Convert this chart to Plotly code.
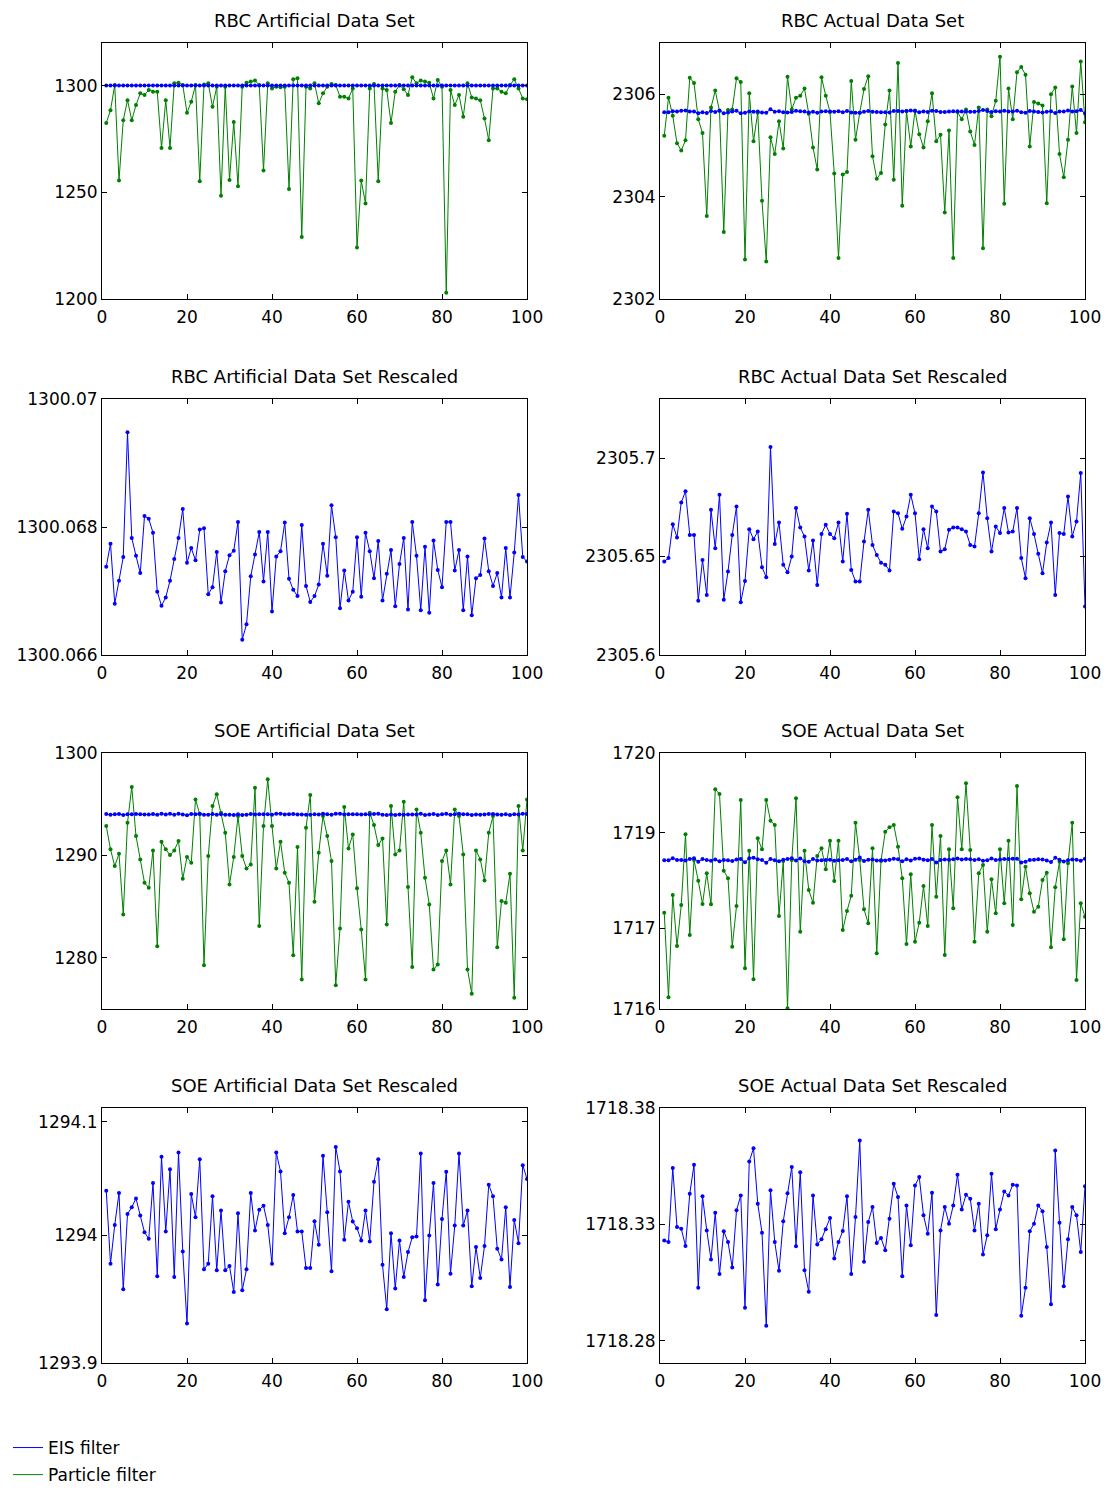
import plotly.graph_objects as go

W, H = 1111, 1495
OFF = 8  # page margin around the figure
FW, FH = W - 2 * OFF, H - 2 * OFF

x_steps = list(range(1, 101))

# particle filter estimates (green)
rbc_art_pf = [
    1282.5, 1288.5, 1300.3, 1255.5, 1283.8, 1293.2, 1283.8, 1290.9, 1296.4, 1295.6,
    1298.0, 1297.2, 1297.2, 1270.8, 1293.2, 1270.8, 1301.1, 1301.4, 1300.3, 1287.3,
    1292.5, 1300.3, 1255.2, 1300.6, 1301.1, 1290.1, 1299.5, 1248.4, 1299.5, 1255.8,
    1283.0, 1252.8, 1299.5, 1301.4, 1301.9, 1302.4, 1300.3, 1260.2, 1301.1, 1298.7,
    1299.5, 1299.2, 1299.5, 1251.6, 1303.0, 1303.5, 1229.1, 1299.5, 1298.7, 1301.1,
    1291.7, 1296.4, 1299.5, 1300.8, 1300.3, 1294.8, 1294.8, 1294.0, 1298.7, 1224.1,
    1255.5, 1244.8, 1298.7, 1300.8, 1255.2, 1298.7, 1298.0, 1282.5, 1297.2, 1300.3,
    1298.3, 1295.6, 1303.9, 1301.1, 1302.4, 1301.9, 1301.4, 1294.0, 1302.7, 1299.5,
    1202.9, 1298.0, 1290.9, 1295.6, 1285.4, 1301.1, 1294.5, 1294.0, 1293.2, 1284.6,
    1274.4, 1298.7, 1298.7, 1297.2, 1296.4, 1300.3, 1303.0, 1298.7, 1294.0, 1293.6]

rbc_act_pf = [
    2305.19, 2305.93, 2305.58, 2305.04, 2304.90, 2305.10, 2306.32, 2306.22, 2305.51, 2305.24,
    2303.62, 2305.74, 2306.07, 2305.67, 2303.31, 2305.69, 2305.70, 2306.31, 2306.24, 2302.77,
    2306.02, 2305.08, 2305.64, 2303.92, 2302.73, 2305.16, 2304.83, 2305.47, 2304.94, 2306.34,
    2305.70, 2305.93, 2305.97, 2306.11, 2305.62, 2304.96, 2304.53, 2306.33, 2305.97, 2305.65,
    2304.45, 2302.80, 2304.43, 2304.48, 2306.26, 2305.11, 2305.64, 2306.10, 2306.35, 2304.79,
    2304.35, 2304.46, 2305.41, 2306.07, 2304.33, 2306.61, 2303.82, 2305.67, 2304.98, 2305.68,
    2305.22, 2304.96, 2305.47, 2306.02, 2305.08, 2305.21, 2303.69, 2305.29, 2302.80, 2305.65,
    2305.51, 2305.70, 2305.27, 2305.01, 2305.74, 2302.99, 2305.70, 2305.57, 2305.87, 2306.73,
    2303.86, 2306.11, 2305.51, 2306.43, 2306.53, 2306.38, 2304.98, 2305.85, 2305.82, 2305.78,
    2303.87, 2306.00, 2306.13, 2304.83, 2304.38, 2305.11, 2306.15, 2305.24, 2306.64, 2305.45]

soe_art_pf = [
    1292.87, 1290.59, 1288.96, 1290.16, 1284.24, 1293.19, 1296.68, 1291.89, 1289.61, 1287.33,
    1286.84, 1290.49, 1281.14, 1291.34, 1290.59, 1290.03, 1290.49, 1291.40, 1287.72, 1289.84,
    1289.28, 1295.47, 1294.01, 1279.28, 1289.93, 1294.82, 1295.96, 1294.17, 1292.21, 1287.17,
    1289.84, 1293.84, 1289.93, 1288.73, 1289.12, 1296.61, 1283.10, 1292.87, 1297.43, 1292.87,
    1288.73, 1291.34, 1288.31, 1287.33, 1280.26, 1290.81, 1277.88, 1292.70, 1295.90, 1285.47,
    1290.26, 1293.84, 1291.89, 1289.45, 1277.33, 1282.87, 1294.72, 1290.68, 1292.05, 1286.78,
    1282.77, 1277.88, 1294.17, 1292.96, 1291.01, 1291.66, 1283.26, 1294.82, 1290.10, 1290.49,
    1295.24, 1286.91, 1279.09, 1294.49, 1292.21, 1287.82, 1285.21, 1278.86, 1279.35, 1289.45,
    1290.49, 1287.17, 1294.49, 1293.84, 1290.10, 1278.86, 1276.48, 1290.49, 1289.61, 1287.56,
    1292.21, 1293.84, 1281.04, 1285.54, 1285.38, 1288.21, 1276.09, 1294.82, 1290.49, 1295.47]

soe_act_pf = [
    1717.505, 1716.182, 1717.781, 1716.984, 1717.625, 1718.729, 1717.156, 1718.328, 1718.005, 1717.641,
    1718.120, 1717.635, 1719.432, 1719.359, 1718.161, 1718.042, 1716.974, 1717.609, 1719.266, 1716.635,
    1718.474, 1716.464, 1718.667, 1718.495, 1719.266, 1718.943, 1718.875, 1717.453, 1718.313, 1716.010,
    1718.328, 1719.292, 1717.208, 1718.474, 1717.859, 1717.661, 1718.391, 1718.510, 1718.182, 1718.630,
    1718.000, 1718.630, 1717.234, 1717.531, 1717.771, 1718.911, 1718.328, 1717.557, 1717.339, 1718.510,
    1716.870, 1718.313, 1718.771, 1718.839, 1718.875, 1718.536, 1718.042, 1717.016, 1718.104, 1717.052,
    1717.349, 1717.922, 1717.297, 1718.875, 1717.755, 1718.703, 1716.844, 1718.495, 1717.573, 1719.307,
    1718.495, 1719.526, 1718.484, 1717.052, 1718.120, 1718.250, 1717.208, 1718.026, 1717.495, 1718.495,
    1717.651, 1718.630, 1717.313, 1719.484, 1717.714, 1718.224, 1717.807, 1717.521, 1717.599, 1718.016,
    1718.130, 1716.964, 1717.901, 1718.302, 1717.089, 1718.276, 1718.911, 1716.453, 1717.651, 1717.443]

# EIS filter estimates (blue), also shown rescaled
rbc_art_eis = [
    1300.06738, 1300.06774, 1300.06680, 1300.06716, 1300.06753, 1300.06948, 1300.06783, 1300.06755, 1300.06728, 1300.06817,
    1300.06813, 1300.06791, 1300.06699, 1300.06677, 1300.06690, 1300.06716, 1300.06750, 1300.06783, 1300.06828, 1300.06744,
    1300.06767, 1300.06748, 1300.06796, 1300.06798, 1300.06695, 1300.06706, 1300.06761, 1300.06682, 1300.06731, 1300.06756,
    1300.06763, 1300.06808, 1300.06624, 1300.06648, 1300.06723, 1300.06757, 1300.06792, 1300.06715, 1300.06792, 1300.06668,
    1300.06754, 1300.06762, 1300.06807, 1300.06719, 1300.06702, 1300.06692, 1300.06803, 1300.06708, 1300.06683, 1300.06692,
    1300.06710, 1300.06774, 1300.06724, 1300.06834, 1300.06784, 1300.06673, 1300.06732, 1300.06685, 1300.06699, 1300.06784,
    1300.06691, 1300.06791, 1300.06762, 1300.06720, 1300.06778, 1300.06685, 1300.06727, 1300.06764, 1300.06676, 1300.06742,
    1300.06783, 1300.06671, 1300.06808, 1300.06755, 1300.06670, 1300.06769, 1300.06666, 1300.06779, 1300.06733, 1300.06706,
    1300.06808, 1300.06808, 1300.06732, 1300.06764, 1300.06670, 1300.06754, 1300.06662, 1300.06720, 1300.06725, 1300.06782,
    1300.06731, 1300.06708, 1300.06728, 1300.06690, 1300.06767, 1300.06690, 1300.06760, 1300.06850, 1300.06753, 1300.06746]

rbc_act_eis = [
    2305.6475, 2305.6492, 2305.6664, 2305.6597, 2305.6775, 2305.6831, 2305.6610, 2305.6610, 2305.6276, 2305.6483,
    2305.6305, 2305.6737, 2305.6542, 2305.6814, 2305.6280, 2305.6424, 2305.6610, 2305.6754, 2305.6268, 2305.6376,
    2305.6639, 2305.6588, 2305.6627, 2305.6446, 2305.6395, 2305.7056, 2305.6564, 2305.6673, 2305.6458, 2305.6420,
    2305.6500, 2305.6746, 2305.6647, 2305.6602, 2305.6429, 2305.6581, 2305.6356, 2305.6615, 2305.6661, 2305.6615,
    2305.6593, 2305.6673, 2305.6475, 2305.6717, 2305.6432, 2305.6373, 2305.6373, 2305.6576, 2305.6737, 2305.6559,
    2305.6508, 2305.6469, 2305.6458, 2305.6429, 2305.6729, 2305.6720, 2305.6641, 2305.6703, 2305.6814, 2305.6720,
    2305.6486, 2305.6639, 2305.6542, 2305.6754, 2305.6729, 2305.6525, 2305.6537, 2305.6636, 2305.6647, 2305.6647,
    2305.6639, 2305.6627, 2305.6559, 2305.6551, 2305.6720, 2305.6927, 2305.6695, 2305.6525, 2305.6653, 2305.6619,
    2305.6746, 2305.6622, 2305.6627, 2305.6746, 2305.6492, 2305.6390, 2305.6695, 2305.6614, 2305.6514, 2305.6415,
    2305.6571, 2305.6673, 2305.6305, 2305.6619, 2305.6614, 2305.6805, 2305.6602, 2305.6678, 2305.6924, 2305.6246]

soe_art_eis = [
    1294.0394, 1293.9752, 1294.0093, 1294.0373, 1293.9528, 1294.0189, 1294.0248, 1294.0326, 1294.0175, 1294.0029,
    1293.9971, 1294.0461, 1293.9641, 1294.0691, 1294.0035, 1294.0583, 1293.9636, 1294.0729, 1293.9860, 1293.9228,
    1294.0364, 1294.0160, 1294.0670, 1293.9703, 1293.9752, 1294.0344, 1293.9694, 1294.0219, 1293.9694, 1293.9732,
    1293.9504, 1294.0195, 1293.9519, 1293.9703, 1294.0373, 1294.0044, 1294.0227, 1294.0262, 1294.0093, 1293.9752,
    1294.0729, 1294.0563, 1294.0020, 1294.0160, 1294.0356, 1294.0035, 1294.0035, 1293.9714, 1293.9714, 1294.0125,
    1293.9918, 1294.0700, 1294.0204, 1293.9685, 1294.0778, 1294.0563, 1293.9962, 1294.0297, 1294.0122, 1294.0064,
    1293.9956, 1294.0219, 1293.9948, 1294.0472, 1294.0670, 1293.9743, 1293.9353, 1294.0020, 1293.9534, 1293.9956,
    1293.9636, 1293.9854, 1293.9985, 1293.9991, 1294.0720, 1293.9432, 1294.0000, 1294.0461, 1293.9569, 1294.0146,
    1294.0560, 1293.9665, 1294.0087, 1294.0720, 1294.0087, 1294.0219, 1293.9554, 1293.9898, 1293.9627, 1293.9907,
    1294.0446, 1294.0344, 1293.9883, 1293.9790, 1294.0248, 1293.9548, 1294.0137, 1293.9933, 1294.0618, 1294.0496]

soe_act_eis = [
    1718.3231, 1718.3224, 1718.3542, 1718.3289, 1718.3281, 1718.3207, 1718.3431, 1718.3556, 1718.3027, 1718.3421,
    1718.3274, 1718.3149, 1718.3350, 1718.3086, 1718.3270, 1718.3224, 1718.3114, 1718.3360, 1718.3424, 1718.2941,
    1718.3570, 1718.3627, 1718.3389, 1718.3264, 1718.2864, 1718.3446, 1718.3224, 1718.3100, 1718.3313, 1718.3434,
    1718.3546, 1718.3206, 1718.3524, 1718.3103, 1718.3010, 1718.3424, 1718.3213, 1718.3236, 1718.3279, 1718.3327,
    1718.3153, 1718.3224, 1718.3271, 1718.3421, 1718.3086, 1718.3331, 1718.3660, 1718.3139, 1718.3310, 1718.3374,
    1718.3220, 1718.3241, 1718.3189, 1718.3324, 1718.3474, 1718.3417, 1718.3077, 1718.3381, 1718.3210, 1718.3467,
    1718.3503, 1718.3339, 1718.3260, 1718.3436, 1718.2910, 1718.3274, 1718.3374, 1718.3303, 1718.3381, 1718.3513,
    1718.3364, 1718.3427, 1718.3410, 1718.3274, 1718.3389, 1718.3170, 1718.3253, 1718.3517, 1718.3279, 1718.3364,
    1718.3441, 1718.3424, 1718.3470, 1718.3467, 1718.2907, 1718.3027, 1718.3270, 1718.3303, 1718.3381, 1718.3356,
    1718.3203, 1718.2956, 1718.3617, 1718.3307, 1718.3034, 1718.3236, 1718.3374, 1718.3339, 1718.3181, 1718.3464]

x_ticks = [0, 20, 40, 60, 80, 100]

BLUE = '#0000ff'
GREEN = '#008000'
FONT = 'DejaVu Sans, Liberation Sans, Arial, sans-serif'


def px_x(px):
    return (px - OFF) / FW


def px_y(py):
    return 1 - (py - OFF) / FH


# title, (left, right, bottom, top) in page pixels, series, y range, y ticks, tick labels
panels = [
    ('RBC Artificial Data Set', (102, 527, 299, 43), [rbc_art_pf, rbc_art_eis],
     [1200, 1320], [1200, 1250, 1300], ['1200', '1250', '1300']),
    ('RBC Actual Data Set', (660, 1085, 299, 43), [rbc_act_pf, rbc_act_eis],
     [2302, 2307], [2302, 2304, 2306], ['2302', '2304', '2306']),
    ('RBC Artificial Data Set Rescaled', (102, 527, 655, 399), [None, rbc_art_eis],
     [1300.066, 1300.07], [1300.066, 1300.068, 1300.07], ['1300.066', '1300.068', '1300.07']),
    ('RBC Actual Data Set Rescaled', (660, 1085, 655, 399), [None, rbc_act_eis],
     [2305.6, 2305.73], [2305.6, 2305.65, 2305.7], ['2305.6', '2305.65', '2305.7']),
    ('SOE Artificial Data Set', (102, 527, 1009, 753), [soe_art_pf, soe_art_eis],
     [1275, 1300], [1280, 1290, 1300], ['1280', '1290', '1300']),
    ('SOE Actual Data Set', (660, 1085, 1009, 753), [soe_act_pf, soe_act_eis],
     [1716, 1720], [1716, 1717.26, 1718.755, 1720], ['1716', '1717', '1719', '1720']),
    ('SOE Artificial Data Set Rescaled', (102, 527, 1363, 1108), [None, soe_art_eis],
     [1293.888, 1294.112], [1293.888, 1294.0, 1294.1], ['1293.9', '1294', '1294.1']),
    ('SOE Actual Data Set Rescaled', (660, 1085, 1363, 1108), [None, soe_act_eis],
     [1718.2704, 1718.38], [1718.28, 1718.33, 1718.38], ['1718.28', '1718.33', '1718.38']),
]

fig = go.Figure()
layout = dict(template='none', width=FW, height=FH,
              margin=dict(l=0, r=0, t=0, b=0, pad=0, autoexpand=False),
              paper_bgcolor='white', plot_bgcolor='white',
              font=dict(family=FONT, size=17, color='black'),
              annotations=[])

for i, (title, box, series, yr, yt, ytt) in enumerate(panels, start=1):
    l, r, b, t = box
    sfx = '' if i == 1 else str(i)
    pf, eis = series
    if pf is not None:
        fig.add_trace(go.Scatter(x=x_steps, y=pf, mode='lines+markers',
                                 line=dict(color=GREEN, width=1),
                                 marker=dict(color=GREEN, size=4),
                                 showlegend=False, xaxis='x' + sfx, yaxis='y' + sfx))
    fig.add_trace(go.Scatter(x=x_steps, y=eis, mode='lines+markers',
                             line=dict(color=BLUE, width=1),
                             marker=dict(color=BLUE, size=4),
                             showlegend=False, xaxis='x' + sfx, yaxis='y' + sfx))
    axis_style = dict(showline=True, linecolor='black', linewidth=1, mirror='ticks',
                      ticks='inside', ticklen=5, tickcolor='black', tickwidth=1,
                      showgrid=False, zeroline=False, automargin=False)
    layout['xaxis' + sfx] = dict(axis_style, domain=[px_x(l), px_x(r)], range=[0, 100],
                                 tickvals=x_ticks, anchor='y' + sfx, ticklabelstandoff=3)
    layout['yaxis' + sfx] = dict(axis_style, domain=[px_y(b), px_y(t)], range=yr,
                                 tickvals=yt, ticktext=ytt, anchor='x' + sfx)
    layout['annotations'].append(dict(text=title, x=px_x((l + r) / 2), y=px_y(t - 23),
                                      xref='paper', yref='paper', showarrow=False,
                                      xanchor='center', yanchor='middle',
                                      font=dict(size=18)))

# legend entries only
fig.add_trace(go.Scatter(x=[None], y=[None], mode='lines', name='EIS filter',
                         legendgroup='eis', line=dict(color=BLUE, width=1)))
fig.add_trace(go.Scatter(x=[None], y=[None], mode='lines', name='Particle filter',
                         legendgroup='pf', line=dict(color=GREEN, width=1)))

layout['legend'] = dict(x=0, y=px_y(1430), xanchor='left', yanchor='top',
                        font=dict(size=17), bgcolor='rgba(0,0,0,0)', borderwidth=0,
                        tracegroupgap=2)
fig.update_layout(layout)

fig.write_html("out.html")
